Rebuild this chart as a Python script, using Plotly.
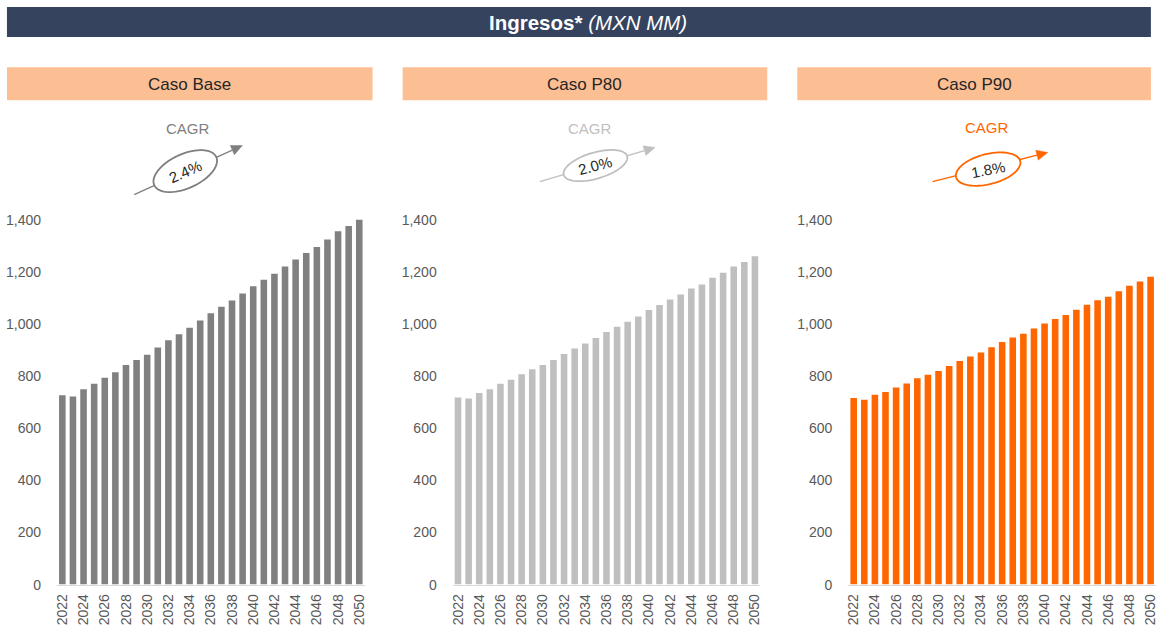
import math
import plotly.graph_objects as go

# Coordinates below are given in target-picture pixels (1158x627).
# Measured page->picture mapping of the viewer: x' = 0.994*x - 3.9, y' = 0.971*y + 1.3,
# and the page body has an 8px default margin.
OFF = 8
SX_A, SX_B = 0.994, -3.9
SY_A, SY_B = 0.971, 1.3
FW, FH = 1162, 640

years = list(range(2022, 2051))
base = [727, 722, 750, 771, 794, 815, 843, 862, 882, 910, 938, 961, 986, 1014, 1041,
        1066, 1090, 1117, 1145, 1170, 1193, 1221, 1248, 1273, 1296, 1324, 1356, 1376, 1404]
p80 = [718, 714, 735, 750, 771, 786, 807, 826, 843, 862, 885, 906, 925, 946, 969,
       990, 1009, 1029, 1054, 1073, 1094, 1113, 1136, 1152, 1178, 1197, 1221, 1238, 1260]
p90 = [716, 709, 729, 739, 756, 772, 792, 805, 820, 839, 858, 875, 891, 911, 931,
       948, 963, 983, 1002, 1019, 1035, 1055, 1074, 1091, 1105, 1126, 1147, 1163, 1181]

panel_titles = ["Caso Base", "Caso P80", "Caso P90"]
cagr_labels = ["2.4%", "2.0%", "1.8%"]
series = [base, p80, p90]
bar_colors = ["#808080", "#BFBFBF", "#FF6600"]
cagr_colors = ["#7F7F7F", "#BFBFBF", "#FF6600"]
tick_years = list(range(2022, 2051, 2))


def fx(sx):
    return (sx - SX_B) / SX_A - OFF


def fy(sy):
    return (sy - SY_B) / SY_A - OFF


def px(sx):
    return fx(sx) / FW


def py(sy):
    return 1 - fy(sy) / FH


fig = go.Figure()

x_domains = [(58, 365), (453, 760), (848, 1155)]
y_dom = [py(583.3), py(220)]

for i in range(3):
    sfx = "" if i == 0 else str(i + 1)
    fig.add_trace(go.Bar(
        x=years, y=series[i], marker=dict(color=bar_colors[i], line=dict(width=0)),
        xaxis="x" + sfx, yaxis="y" + sfx, showlegend=False, hoverinfo="x+y"))
    fig.layout["xaxis" + sfx] = dict(
        domain=[max(0, px(x_domains[i][0])), min(1, px(x_domains[i][1]))],
        range=[2021.5, 2050.5], tickmode="array", tickvals=tick_years,
        ticktext=[str(t) for t in tick_years], tickangle=-90,
        tickfont=dict(family="Liberation Sans, Arial", size=14, color="#595959"),
        showline=True, linecolor="#D9D9D9", linewidth=1, showgrid=False,
        zeroline=False, ticks="", ticklabelstandoff=3,
        anchor="y" + sfx, fixedrange=True)
    fig.layout["yaxis" + sfx] = dict(
        domain=y_dom, range=[0, 1400], tickmode="array",
        tickvals=[0, 200, 400, 600, 800, 1000, 1200, 1400],
        tickformat=",d", showgrid=False, zeroline=False, showline=False,
        tickfont=dict(family="Liberation Sans, Arial", size=14, color="#595959"),
        ticks="", ticklabelstandoff=15, anchor="x" + sfx, fixedrange=True)

fig.update_layout(bargap=0.38)

shapes = []
annotations = []

# Title bar
shapes.append(dict(type="rect", xref="paper", yref="paper",
                   x0=px(8), x1=px(1150), y0=py(38), y1=py(8),
                   fillcolor="#36435F", line=dict(width=0), layer="below"))
annotations.append(dict(xref="paper", yref="paper", x=px(588), y=py(23.5),
                        text="<b>Ingresos*</b> <i>(MXN MM)</i>", showarrow=False,
                        font=dict(family="Liberation Sans, Arial", size=20.5, color="white"),
                        xanchor="center", yanchor="middle"))

header_x = [(8, 373), (403, 767), (797, 1150)]
for i in range(3):
    x0, x1 = header_x[i]
    shapes.append(dict(type="rect", xref="paper", yref="paper",
                       x0=px(x0), x1=px(x1), y0=py(101), y1=py(68),
                       fillcolor="#FCBF94", line=dict(width=0), layer="below"))
    annotations.append(dict(xref="paper", yref="paper", x=px((x0 + x1) / 2), y=py(85),
                            text=panel_titles[i], showarrow=False,
                            font=dict(family="Liberation Sans, Arial", size=17, color="#262626"),
                            xanchor="center", yanchor="middle"))

# CAGR graphics: (cagr text center, tail, tip, ellipse center, a, b, text angle)
cagr_geom = [
    ((188.5, 129), (135, 195), (243, 146), (186, 171.5), 34, 17, -24),
    ((590, 129), (540, 182), (655, 148), (595.5, 166), 33, 13, -15),
    ((986, 128), (932, 182), (1047, 153), (987.5, 169.5), 33, 15, -11),
]

for i, (tc, tail, tip, ec, a, b, tang) in enumerate(cagr_geom):
    col = cagr_colors[i]
    annotations.append(dict(xref="paper", yref="paper", x=px(tc[0]), y=py(tc[1]),
                            text="CAGR", showarrow=False,
                            font=dict(family="Liberation Sans, Arial", size=15, color=col),
                            xanchor="center", yanchor="middle"))
    dx, dy = tip[0] - tail[0], tip[1] - tail[1]
    L = math.hypot(dx, dy)
    ux, uy = dx / L, dy / L
    hl, hw = 11, 5
    base_pt = (tip[0] - ux * hl, tip[1] - uy * hl)
    shapes.append(dict(type="line", xref="paper", yref="paper",
                       x0=px(tail[0]), y0=py(tail[1]), x1=px(base_pt[0]), y1=py(base_pt[1]),
                       line=dict(color=col, width=1.3)))
    p1 = (base_pt[0] - uy * hw, base_pt[1] + ux * hw)
    p2 = (base_pt[0] + uy * hw, base_pt[1] - ux * hw)
    path = "M {},{} L {},{} L {},{} Z".format(px(tip[0]), py(tip[1]), px(p1[0]), py(p1[1]),
                                             px(p2[0]), py(p2[1]))
    shapes.append(dict(type="path", xref="paper", yref="paper", path=path,
                       fillcolor=col, line=dict(color=col, width=0.5)))
    th = math.atan2(dy, dx)
    pts = []
    for k in range(73):
        t = 2 * math.pi * k / 72
        ex = a * math.cos(t)
        ey = b * math.sin(t)
        x = ec[0] + ex * math.cos(th) - ey * math.sin(th)
        y = ec[1] + ex * math.sin(th) + ey * math.cos(th)
        pts.append((px(x), py(y)))
    path = "M " + " L ".join("{:.5f},{:.5f}".format(p[0], p[1]) for p in pts) + " Z"
    shapes.append(dict(type="path", xref="paper", yref="paper", path=path,
                       fillcolor="white", line=dict(color=col, width=1.8)))
    annotations.append(dict(xref="paper", yref="paper", x=px(ec[0]), y=py(ec[1]),
                            text=cagr_labels[i], showarrow=False, textangle=tang,
                            font=dict(family="Liberation Sans, Arial", size=15, color="#262626"),
                            xanchor="center", yanchor="middle"))

fig.update_layout(
    width=FW, height=FH, margin=dict(l=0, r=0, t=0, b=0),
    paper_bgcolor="white", plot_bgcolor="white",
    shapes=shapes, annotations=annotations, showlegend=False,
)

fig.write_html("out.html", config={"displayModeBar": False})
